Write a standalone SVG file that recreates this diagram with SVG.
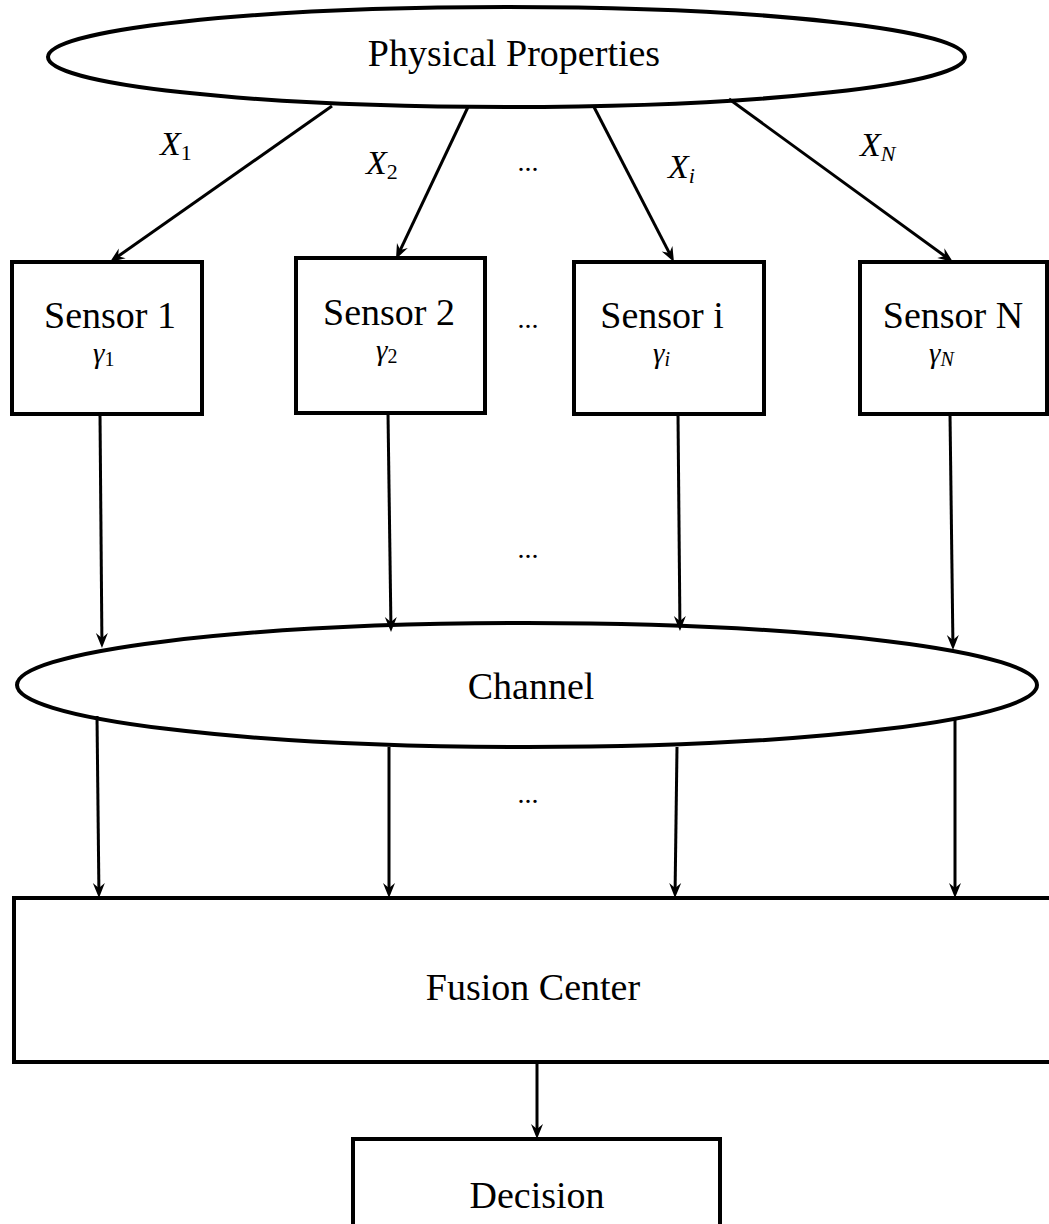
<svg xmlns="http://www.w3.org/2000/svg" width="1049" height="1224" viewBox="0 0 1049 1224">
  <style>
    .shape { fill: #fff; stroke: #000; stroke-width: 4; }
    .conn { fill: none; stroke: #000; stroke-width: 3; marker-end: url(#arrow); }
    .lbl { font-family: "Liberation Serif", "Times New Roman", serif; font-size: 38px; fill: #000; text-anchor: middle; }
    .math { font-family: "Liberation Serif", "Times New Roman", serif; font-style: italic; font-size: 34px; fill: #000; }
    .gam { font-family: "Liberation Serif", "Times New Roman", serif; font-style: italic; font-size: 29px; fill: #000; }
    .sub { font-style: normal; font-size: 22px; }
    .subi { font-style: italic; font-size: 22px; }
    .gsub { font-style: normal; font-size: 20px; }
    .gsubi { font-style: italic; font-size: 20px; }
    .dots { font-size: 28px; }
  </style>
  <defs>
    <marker id="arrow" viewBox="-16 -8 18 16" refX="-8" refY="0" markerWidth="18" markerHeight="16" markerUnits="userSpaceOnUse" orient="auto">
      <path d="M0,0 L-15,-6 L-10,0 L-15,6 Z" fill="#000"/>
    </marker>
  </defs>

  <g id="physical-properties">
    <ellipse class="shape" cx="506.5" cy="57" rx="458.5" ry="50"/>
    <text class="lbl" x="514" y="66">Physical Properties</text>
  </g>

  <g id="sensor-1">
    <rect class="shape" x="12" y="262" width="190" height="152"/>
    <text class="lbl" x="110" y="328">Sensor 1</text>
    <text class="gam" x="93" y="363">γ<tspan class="gsub" dy="3">1</tspan></text>
  </g>
  <g id="sensor-2">
    <rect class="shape" x="296" y="258" width="189" height="155"/>
    <text class="lbl" x="389" y="325">Sensor 2</text>
    <text class="gam" x="376" y="360">γ<tspan class="gsub" dy="3">2</tspan></text>
  </g>
  <g id="sensor-i">
    <rect class="shape" x="574" y="262" width="190" height="152"/>
    <text class="lbl" x="662" y="328">Sensor i</text>
    <text class="gam" x="653" y="363">γ<tspan class="gsubi" dy="3">i</tspan></text>
  </g>
  <g id="sensor-n">
    <rect class="shape" x="860" y="262" width="187" height="152"/>
    <text class="lbl" x="953" y="328">Sensor N</text>
    <text class="gam" x="929" y="363">γ<tspan class="gsubi" dy="3">N</tspan></text>
  </g>

  <g id="channel">
    <ellipse class="shape" cx="527" cy="685" rx="510" ry="62"/>
    <text class="lbl" x="531" y="699">Channel</text>
  </g>

  <g id="fusion-center">
    <rect class="shape" x="14" y="898" width="1045" height="164"/>
    <text class="lbl" x="533" y="1000">Fusion Center</text>
  </g>

  <g id="decision">
    <rect class="shape" x="353" y="1139" width="367" height="110"/>
    <text class="lbl" x="537" y="1208">Decision</text>
  </g>

  <g id="labels">
    <text class="math" x="160" y="155">X<tspan class="sub" dy="5">1</tspan></text>
    <text class="math" x="366" y="174">X<tspan class="sub" dy="5">2</tspan></text>
    <text class="math" x="668" y="178">X<tspan class="subi" dy="5">i</tspan></text>
    <text class="math" x="860" y="156">X<tspan class="subi" dy="5">N</tspan></text>
    <text class="lbl dots" x="528" y="171">...</text>
    <text class="lbl dots" x="528" y="328">...</text>
    <text class="lbl dots" x="528" y="558">...</text>
    <text class="lbl dots" x="528" y="803">...</text>
  </g>

  <g id="connectors">
    <!-- properties to sensors -->
    <line class="conn" x1="332" y1="106" x2="116.5" y2="257.4"/>
    <line class="conn" x1="468" y1="107" x2="399.4" y2="251.8"/>
    <line class="conn" x1="594" y1="107" x2="670.3" y2="254.9"/>
    <line class="conn" x1="729" y1="99" x2="946.5" y2="257.3"/>
    <!-- sensors to channel -->
    <line class="conn" x1="100" y1="414" x2="101.9" y2="640"/>
    <line class="conn" x1="388" y1="413" x2="390.9" y2="624"/>
    <line class="conn" x1="678" y1="414" x2="679.9" y2="623"/>
    <line class="conn" x1="950" y1="414" x2="952.9" y2="642"/>
    <!-- channel to fusion center -->
    <line class="conn" x1="97" y1="716" x2="98.9" y2="890"/>
    <line class="conn" x1="389" y1="747" x2="389" y2="890"/>
    <line class="conn" x1="677" y1="747" x2="675.1" y2="890"/>
    <line class="conn" x1="955" y1="718" x2="955" y2="890"/>
    <!-- fusion center to decision -->
    <line class="conn" x1="537" y1="1064" x2="537" y2="1131"/>
  </g>
</svg>
